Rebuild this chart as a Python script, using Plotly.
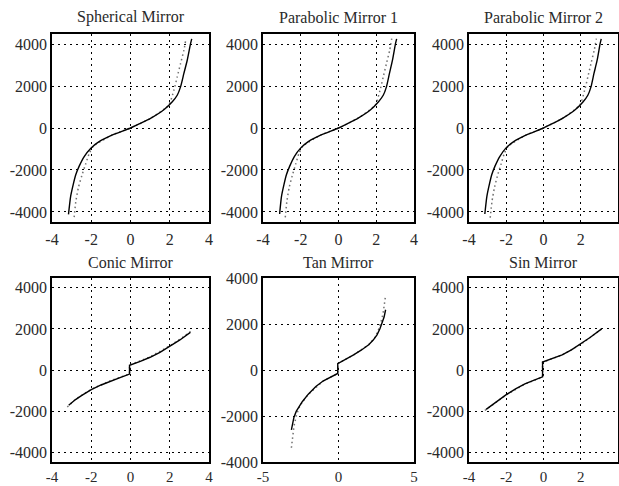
import plotly.graph_objects as go

# ---------------- data ----------------
titles = ["Spherical Mirror", "Parabolic Mirror 1", "Parabolic Mirror 2",
          "Conic Mirror", "Tan Mirror", "Sin Mirror"]

sph_x = [-3.16, -3.05, -2.92, -2.79, -2.62, -2.36, -2.02, -1.60, -0.92, 0.0, 0.50, 1.02, 1.70, 2.13, 2.38, 2.55, 2.72, 2.89, 3.06, 3.12]
sph_y = [-4120, -3260, -2700, -2230, -1830, -1360, -960, -650, -330, 0, 220, 460, 870, 1250, 1560, 1960, 2600, 3230, 4020, 4250]
sph_dx = [-2.87, -2.79, -2.65, -2.45, -2.28, -2.11, -1.90, -0.92, 0.0, 1.02, 1.95, 2.21, 2.38, 2.55, 2.72, 2.81]
sph_dy = [-4250, -3530, -2820, -2180, -1700, -1230, -880, -330, 0, 460, 1100, 1800, 2430, 3070, 3700, 4170]

par1_x = [-3.12, -3.02, -2.89, -2.76, -2.59, -2.34, -2.01, -1.60, -0.92, 0.0, 0.50, 1.02, 1.70, 2.12, 2.37, 2.54, 2.70, 2.86, 3.02, 3.08]
par1_y = [-4100, -3260, -2700, -2230, -1830, -1360, -960, -650, -330, 0, 220, 460, 870, 1250, 1560, 1960, 2600, 3230, 4020, 4250]
par1_dx = [-2.82, -2.74, -2.61, -2.42, -2.26, -2.10, -1.90, -0.92, 0.0, 1.02, 1.95, 2.20, 2.37, 2.54, 2.71, 2.82]
par1_dy = [-4260, -3530, -2820, -2180, -1700, -1230, -880, -330, 0, 460, 1100, 1800, 2430, 3070, 3700, 4260]

par2_x = [-3.15, -3.04, -2.91, -2.78, -2.61, -2.35, -2.02, -1.60, -0.92, 0.0, 0.50, 1.02, 1.70, 2.13, 2.38, 2.55, 2.71, 2.88, 3.04, 3.10]
par2_y = [-4100, -3260, -2700, -2230, -1830, -1360, -960, -650, -330, 0, 220, 460, 870, 1250, 1560, 1960, 2600, 3230, 4020, 4250]
par2_dx = [-2.86, -2.77, -2.63, -2.44, -2.27, -2.11, -1.90, -0.92, 0.0, 1.02, 1.95, 2.21, 2.38, 2.55, 2.72, 2.84]
par2_dy = [-4280, -3530, -2820, -2180, -1700, -1230, -880, -330, 0, 460, 1100, 1800, 2430, 3070, 3700, 4260]

con_x = [-3.15, -2.80, -2.50, -2.00, -1.50, -1.00, -0.50, -0.05, -0.05, 0.50, 1.00, 1.50, 2.00, 2.50, 3.05]
con_y = [-1720, -1440, -1250, -960, -730, -530, -360, -200, 230, 420, 620, 860, 1140, 1450, 1830]
con_dx = [-3.22, -2.80, -2.00, -1.00, -0.05, -0.05, 1.00, 2.00, 2.60, 3.10]
con_dy = [-1800, -1420, -940, -510, -190, 240, 640, 1180, 1550, 1900]

tan_x = [-3.12, -3.05, -2.95, -2.80, -2.60, -2.40, -2.00, -1.50, -1.00, -0.50, -0.05, -0.05, 0.50, 1.00, 1.50, 2.00, 2.30, 2.55, 2.75, 2.90, 3.02, 3.12]
tan_y = [-2600, -2300, -2050, -1800, -1560, -1380, -1050, -720, -470, -290, -150, 280, 470, 660, 860, 1100, 1300, 1530, 1800, 2050, 2300, 2620]
tan_dx = [-3.12, -3.05, -2.95, -2.80, -2.62, -2.40, -2.00, -1.00, -0.05, -0.05, 1.00, 2.00, 2.40, 2.62, 2.80, 2.95, 3.05, 3.12]
tan_dy = [-3380, -2900, -2450, -2000, -1650, -1400, -1060, -470, -150, 280, 660, 1100, 1400, 1700, 2050, 2450, 2850, 3250]

sin_x = [-3.08, -2.50, -2.00, -1.50, -1.00, -0.50, -0.05, -0.05, 0.50, 1.00, 1.50, 2.00, 2.50, 3.12]
sin_y = [-1920, -1520, -1200, -920, -680, -490, -330, 390, 560, 740, 980, 1260, 1580, 2000]
sin_dx = [-3.15, -2.00, -1.00, -0.05, -0.05, 1.00, 2.00, 3.15]
sin_dy = [-1970, -1210, -690, -340, 380, 730, 1250, 2020]

solid = [(sph_x, sph_y), (par1_x, par1_y), (par2_x, par2_y), (con_x, con_y), (tan_x, tan_y), (sin_x, sin_y)]
dotted = [(sph_dx, sph_dy), (par1_dx, par1_dy), (par2_dx, par2_dy), (con_dx, con_dy), (tan_dx, tan_dy), (sin_dx, sin_dy)]

x_ranges = [[-4, 4], [-4, 4], [-4, 4], [-4, 4], [-5, 5], [-4, 4]]
y_ranges = [[-4480, 4480], [-4480, 4480], [-4480, 4480], [-4480, 4480], [-4000, 4000], [-4480, 4480]]
x_ticks = [[-4, -2, 0, 2, 4]] * 4 + [[-5, 0, 5]] + [[-4, -2, 0, 2, 4]]
y_ticks = [[-4000, -2000, 0, 2000, 4000]] * 6

# ---------------- layout ----------------
W, H = 619, 486
x_px = [(52, 209), (263, 414), (469, 618)]
y_px = [(34, 222), (278, 462)]
title_px = [17, 262]

def lab(v):
    return str(v).replace("\u2212", "-")

fig = go.Figure()
font = dict(family="Liberation Serif", size=16, color="#2a2a2a")
xfont_bottom = dict(family="Liberation Serif", size=15, color="#2a2a2a")
layout = dict(width=W, height=H, margin=dict(l=0, r=0, t=0, b=0, autoexpand=False),
              paper_bgcolor="white", plot_bgcolor="white", showlegend=False,
              font=font)
annotations = []
for i in range(6):
    r, c = divmod(i, 3)
    n = "" if i == 0 else str(i + 1)
    xa, ya = "x" + n, "y" + n
    x0, x1 = x_px[c]
    yt, yb = y_px[r]
    dx = [x0 / W, x1 / W]
    dy = [1 - yb / H, 1 - yt / H]
    common = dict(showline=True, mirror=True, linecolor="black", linewidth=1.5,
                  showgrid=True, gridcolor="black", gridwidth=1.3, griddash="2px,4px",
                  zeroline=False, ticks="", tickmode="array", automargin=False)
    layout["xaxis" + n] = dict(domain=dx, range=x_ranges[i], tickvals=x_ticks[i],
                               ticktext=[lab(v) for v in x_ticks[i]],
                               tickfont=font if r == 0 else xfont_bottom,
                               anchor=ya, ticklabelstandoff=2 if r == 0 else 0, **common)
    layout["yaxis" + n] = dict(domain=dy, range=y_ranges[i], tickvals=y_ticks[i],
                               ticktext=[lab(v) for v in y_ticks[i]], tickfont=font,
                               anchor=xa, ticklabelstandoff=0, **common)
    sx, sy = solid[i]
    ddx, ddy = dotted[i]
    shp = dict(shape="spline", smoothing=0.6) if r == 0 else dict(shape="linear")
    fig.add_trace(go.Scatter(x=ddx, y=ddy, mode="lines", xaxis=xa, yaxis=ya,
                             line=dict(color="#707070", width=1.5, dash="1.5px,3px", **shp)))
    fig.add_trace(go.Scatter(x=sx, y=sy, mode="lines", xaxis=xa, yaxis=ya,
                             line=dict(color="black", width=1.4, **shp)))
    annotations.append(dict(text=titles[i], xref="paper", yref="paper",
                            x=(dx[0] + dx[1]) / 2, y=1 - title_px[r] / H,
                            xanchor="center", yanchor="middle", showarrow=False,
                            font=dict(family="Liberation Serif", size=16, color="#2a2a2a")))
layout["annotations"] = annotations
fig.update_layout(**layout)
fig.write_html("out.html")
